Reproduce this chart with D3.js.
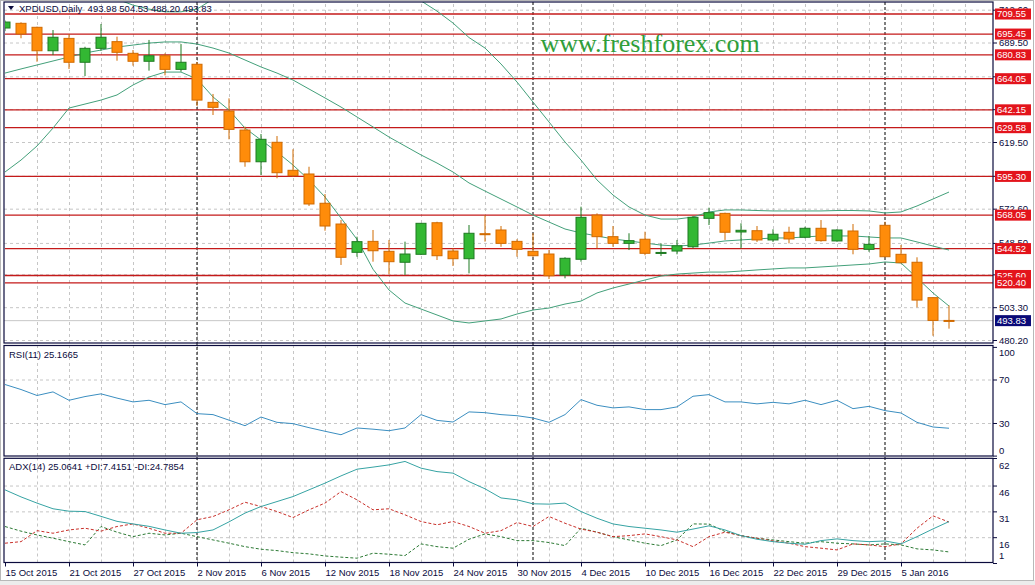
<!DOCTYPE html>
<html>
<head>
<meta charset="utf-8">
<script src="https://cdn.jsdelivr.net/npm/d3@7"></script>
<style>
  body { margin: 0; background: #fff; }
  svg { display: block; font-family: "Liberation Sans", Arial, sans-serif; }
</style>
</head>
<body>
<svg id="chart" width="1035" height="585"></svg>
<script>
// XPDUSD daily, 15 Oct 2015 - 8 Jan 2016 (60 bars)
var opens  = [699.7,703.0,700.2,683.7,692.4,675.6,685.4,690.1,681.9,676.3,680.2,670.6,674.2,647.4,641.3,627.9,605.6,619.3,599.6,597.0,
              576.4,561.8,541.9,549.6,542.6,534.9,540.5,562.7,542.8,537.4,555.0,557.6,549.6,542.6,540.7,525.9,537.0,568.1,552.9,548.2,
              551.1,541.2,542.8,545.8,565.8,569.3,556.2,557.1,550.6,556.0,552.5,558.8,549.9,556.9,544.0,560.9,540.5,534.9,510.0,493.98];
var highs  = [705.0,703.7,700.6,698.3,695.3,686.5,702.5,693.6,684.2,691.3,681.9,688.4,675.8,653.3,650.2,630.3,625.1,623.7,614.4,602.1,
              582.9,564.6,552.9,557.6,550.6,549.4,562.5,563.4,544.7,561.1,568.1,560.4,551.1,555.3,543.5,538.4,574.0,569.3,560.4,555.3,
              556.4,548.2,550.6,567.4,573.3,569.8,562.3,560.4,558.1,559.9,559.9,564.6,558.1,561.8,553.4,563.4,547.0,538.4,510.2,504.53];
var lows   = [697.5,692.5,676.0,680.7,670.9,665.9,683.7,676.7,673.2,669.7,666.4,669.0,644.8,638.5,621.4,602.1,596.3,594.0,595.1,574.5,
              557.1,533.0,538.8,535.3,526.6,525.9,540.0,536.5,532.3,527.1,549.4,545.8,538.8,538.8,523.1,523.6,535.3,544.7,545.8,543.5,
              539.8,539.3,540.5,544.7,561.1,550.6,544.7,549.2,549.2,548.2,551.8,549.4,549.4,540.5,542.3,538.5,534.2,503.2,483.2,488.20];
var closes = [703.9,695.5,683.7,693.2,675.6,685.4,693.2,682.6,676.3,680.2,670.6,675.6,649.0,643.9,628.4,605.6,621.4,597.9,595.8,575.9,
              560.4,538.4,549.4,543.0,535.3,540.7,562.3,539.5,537.4,555.3,554.6,548.2,544.0,539.5,525.4,537.7,566.5,552.9,548.2,550.1,
              541.2,541.8,546.5,566.5,569.8,556.0,557.4,550.6,554.6,551.3,558.8,550.1,557.6,544.0,547.5,538.8,534.6,508.3,493.98,493.83];

// Bollinger bands
var bbUpper  = [737.6,735.0,730.7,724.5,722.0,721.0,720.5,720.0,715.8,713.0,711.1,711.1,713.0,720.0,724.0,728.0,731.0,733.0,734.0,735.0,
                735.0,734.0,732.8,732.2,730.6,727.2,718.8,711.6,703.2,693.0,685.6,674.4,661.7,647.6,633.6,619.5,606.8,592.8,582.2,573.8,
                568.1,565.3,565.3,566.7,570.3,571.7,571.7,571.3,571.0,571.0,571.0,571.0,571.3,571.3,571.0,569.6,570.3,574.5,579.4,584.3];
var bbMiddle = [668.0,670.9,673.7,676.5,679.3,682.1,684.2,686.3,687.7,689.1,689.9,689.9,688.4,685.6,682.1,677.2,672.3,668.0,663.1,656.8,
                650.5,644.1,637.1,630.1,623.0,616.7,610.4,604.7,598.4,590.7,585.0,579.4,573.8,568.1,563.2,558.3,555.5,553.4,551.3,549.9,
                548.4,547.0,546.3,547.0,548.4,549.9,550.6,551.3,552.0,552.0,552.7,553.4,553.4,553.4,552.7,552.0,552.0,549.2,546.3,543.5];
var bbLower  = [598.4,606.8,616.7,629.3,643.4,646.2,649.0,652.6,659.6,665.2,668.7,668.7,663.8,651.2,642.0,629.3,620.9,612.5,603.3,592.8,
                580.8,566.0,551.0,530.0,515.4,506.2,502.0,497.8,493.6,492.2,493.6,495.0,498.5,501.3,502.7,505.5,507.6,513.3,516.8,519.6,
                522.4,525.2,526.6,527.3,528.0,528.0,528.7,529.5,530.2,530.9,530.9,531.6,532.3,533.0,533.7,535.1,534.4,523.9,513.3,504.1];

// RSI(11)
var rsi = [65.4,60.8,55.3,58.6,50.9,54.3,56.8,52.9,49.4,50.9,46.9,49.4,38.6,37.7,32.6,27.5,35.5,30.6,29.4,25.7,
           22.4,19.2,25.4,24.3,22.9,25.4,37.7,32.4,30.9,40.2,39.5,37.7,36.7,34.6,30.6,37.7,51.5,46.3,43.9,44.8,
           42.3,42.3,44.8,54.6,56.1,49.4,49.4,47.6,49.0,47.6,50.9,46.9,50.9,43.2,45.3,41.4,39.2,30.6,26.3,25.17];

// ADX(14)
var adx     = [43.5,39.4,35.8,32.5,31.1,30.9,28.1,25.2,23.7,22.3,20.2,18.3,18.7,20.2,24.9,30.0,33.8,36.7,39.6,43.5,
               47.4,51.6,55.5,56.7,58.0,60.0,56.1,54.1,53.2,48.3,44.1,38.8,37.7,35.4,35.2,35.8,30.9,27.0,23.7,22.2,
               21.2,20.2,18.9,20.7,22.6,20.2,16.9,14.8,13.4,12.5,11.9,14.0,15.0,14.0,13.4,13.8,12.1,16.3,20.8,25.06];
var plusDI  = [22.2,19.5,17.3,15.4,13.4,11.5,22.2,18.9,16.3,18.3,17.3,18.3,16.3,14.4,12.5,10.5,9.0,8.2,7.0,6.3,
               5.1,4.4,3.8,6.7,6.1,5.3,12.1,10.5,9.6,14.8,17.9,16.3,14.0,14.0,12.9,11.1,21.2,18.9,16.3,14.4,
               12.5,11.1,14.4,23.7,23.6,19.3,16.9,15.4,14.4,13.4,12.5,13.4,12.5,12.1,11.5,12.1,11.5,9.2,8.6,7.42];
var minusDI = [12.5,13.4,19.8,18.3,20.2,21.2,19.5,22.2,23.7,21.2,18.3,18.3,26.1,28.0,31.9,36.3,33.8,30.9,27.4,31.9,
               35.8,42.5,37.7,31.9,32.5,29.0,25.1,23.2,25.1,22.2,18.3,19.8,24.5,22.2,28.0,24.1,20.7,18.9,16.3,16.9,
               17.9,16.3,14.4,10.5,16.3,18.9,16.9,15.4,13.8,12.5,10.5,9.6,8.6,12.1,11.5,10.5,12.1,21.2,28.4,24.79];

// horizontal levels (red) and axis ticks
var levels = [709.55,695.45,680.83,664.05,642.15,629.58,595.30,568.05,544.52,525.60,520.40];
var lastPrice = 493.83;
var priceTicks = [480.20,503.30,526.40,548.50,572.60,595.70,619.50,642.60,665.70,689.50,712.60];
var priceLabels = [480.20,503.30,548.50,572.60,619.50,689.50,712.60];   // the rest sit under level boxes
var rsiTicks = [100,70,30,0];
var adxTicks = [62,46,31,16,1];
var dateTickIdx = [0,4,8,12,16,20,24,28,32,36,40,44,48,52,56];
var dateTickText = ["15 Oct 2015","21 Oct 2015","27 Oct 2015","2 Nov 2015","6 Nov 2015","12 Nov 2015","18 Nov 2015",
                    "24 Nov 2015","30 Nov 2015","4 Dec 2015","10 Dec 2015","16 Dec 2015","22 Dec 2015","29 Dec 2015","5 Jan 2016"];
var separators = [12,33,55];   // first bar of a month

var svg = d3.select("#chart");
var L = 4, R = 993;
var main = {top: 2, bottom: 343}, rsiP = {top: 345.5, bottom: 456}, adxP = {top: 458.3, bottom: 562.5};
var navy = "#0b0b3d", gridCol = "#c6c6c6";

// window edge
svg.append("rect").attr("x", 0).attr("y", 580).attr("width", 1035).attr("height", 5).attr("fill", "#ececec");
svg.append("rect").attr("x", 0.5).attr("y", 0.5).attr("width", 1033).attr("height", 580)
  .attr("fill", "none").attr("stroke", "#b8b8b8");

var x = d3.scaleLinear().domain([0, 61.75]).range([5, R]);
var y = d3.scaleLinear().domain([478.1, 718.0]).range([main.bottom, main.top]);
var yR = d3.scaleLinear().domain([0, 100]).range([455.6, 346.9]);
var yA = d3.scaleLinear().domain([1, 62]).range([563, 458]);

var defs = svg.append("defs");
function clip(id, p) {
  defs.append("clipPath").attr("id", id).append("rect")
    .attr("x", L + 1).attr("y", p.top).attr("width", R - L - 1).attr("height", p.bottom - p.top);
  return "url(#" + id + ")";
}
var cMain = clip("cm", main), cRsi = clip("cr", rsiP), cAdx = clip("ca", adxP);

// vertical grid (every second bar) through all panels
var evens = d3.range(2, 61, 2);
[main, rsiP, adxP].forEach(function (p) {
  svg.append("g").attr("transform", "translate(0," + p.bottom + ")")
    .call(d3.axisBottom(x).tickValues(evens).tickSize(-(p.bottom - p.top)).tickFormat(""))
    .call(function (g) { g.select(".domain").remove(); })
    .selectAll(".tick line").attr("stroke", gridCol).attr("stroke-dasharray", "3,3");
});

// horizontal grids
function hgrid(scale, vals) {
  svg.append("g").attr("transform", "translate(" + L + ",0)")
    .call(d3.axisLeft(scale).tickValues(vals).tickSize(-(R - L)).tickFormat(""))
    .call(function (g) { g.select(".domain").remove(); })
    .selectAll(".tick line").attr("stroke", gridCol).attr("stroke-dasharray", "3,3");
}
hgrid(y, priceTicks);
hgrid(yR, [70, 30]);
hgrid(yA, [46, 31, 16]);

// last price line
svg.append("line").attr("x1", L).attr("x2", R).attr("y1", y(lastPrice)).attr("y2", y(lastPrice))
  .attr("stroke", "#c8c8c8");

// month separators
separators.forEach(function (i) {
  svg.append("line").attr("x1", x(i)).attr("x2", x(i)).attr("y1", main.top).attr("y2", adxP.bottom)
    .attr("stroke", "#000").attr("stroke-dasharray", "3,2");
});

// watermark
svg.append("text").attr("x", 650).attr("y", 52).attr("text-anchor", "middle")
  .style("font-family", "'Liberation Serif', 'Times New Roman', serif").style("font-size", "26px")
  .attr("fill", "#2f9e3a").text("www.freshforex.com");

// red levels
var gm = svg.append("g").attr("clip-path", cMain);
gm.selectAll(".lvl").data(levels).enter().append("line")
  .attr("x1", L).attr("x2", R).attr("y1", function (d) { return y(d); }).attr("y2", function (d) { return y(d); })
  .attr("stroke", "#c41a1a").attr("stroke-width", 1.3);

// bollinger bands
var bbCol = "#43a07a";
[bbUpper, bbMiddle, bbLower].forEach(function (arr) {
  gm.append("path").datum(arr)
    .attr("d", d3.line().x(function (d, i) { return x(i); }).y(function (d) { return y(d); }))
    .attr("fill", "none").attr("stroke", bbCol).attr("stroke-width", 1);
});

// candles
var bars = d3.range(opens.length);
var cg = gm.selectAll(".c").data(bars).enter().append("g");
function up(i) { return closes[i] >= opens[i]; }
cg.append("line")
  .attr("x1", function (i) { return x(i); }).attr("x2", function (i) { return x(i); })
  .attr("y1", function (i) { return y(highs[i]); }).attr("y2", function (i) { return y(lows[i]); })
  .attr("stroke", function (i) { return up(i) ? "#1f7a22" : "#d06a00"; });
cg.append("rect")
  .attr("x", function (i) { return x(i) - 5; }).attr("width", 10)
  .attr("y", function (i) { return y(Math.max(opens[i], closes[i])); })
  .attr("height", function (i) { return Math.max(1, Math.abs(y(opens[i]) - y(closes[i]))); })
  .attr("fill", function (i) { return up(i) ? "#33b833" : "#ff8c0a"; })
  .attr("stroke", function (i) { return up(i) ? "#1f7a22" : "#d06a00"; });

// RSI
var gr = svg.append("g").attr("clip-path", cRsi);
gr.append("path").datum(rsi)
  .attr("d", d3.line().x(function (d, i) { return x(i); }).y(function (d) { return yR(d); }))
  .attr("fill", "none").attr("stroke", "#3b8ec0").attr("stroke-width", 1);

// ADX
var ga = svg.append("g").attr("clip-path", cAdx);
var lineA = d3.line().x(function (d, i) { return x(i); }).y(function (d) { return yA(d); });
ga.append("path").datum(plusDI).attr("d", lineA).attr("fill", "none")
  .attr("stroke", "#2d7a35").attr("stroke-dasharray", "3,2");
ga.append("path").datum(minusDI).attr("d", lineA).attr("fill", "none")
  .attr("stroke", "#c8302a").attr("stroke-dasharray", "3,2");
ga.append("path").datum(adx).attr("d", lineA).attr("fill", "none")
  .attr("stroke", "#36a3a3").attr("stroke-width", 1);

// panel frames
[main, rsiP, adxP].forEach(function (p) {
  svg.append("rect").attr("x", L).attr("y", p.top).attr("width", R - L).attr("height", p.bottom - p.top)
    .attr("fill", "none").attr("stroke", navy).attr("stroke-width", 1.2);
});

// right axes
var fs = "9.5px";
var ax = svg.append("g").attr("transform", "translate(" + R + ",0)")
  .call(d3.axisRight(y).tickValues(priceTicks).tickSize(4).tickFormat(d3.format(".2f")));
ax.select(".domain").remove();
ax.selectAll("line").attr("stroke", navy);
ax.selectAll("text").attr("fill", navy).style("font-size", fs).attr("x", 6)
  .filter(function (d) { return priceLabels.indexOf(d) < 0; }).remove();

var axR = svg.append("g").attr("transform", "translate(" + R + ",0)")
  .call(d3.axisRight(yR).tickValues(rsiTicks).tickSize(4));
axR.select(".domain").remove();
axR.selectAll("line").attr("stroke", navy);
axR.selectAll("text").attr("fill", navy).style("font-size", fs).attr("x", 6)
  .attr("dy", function (d) { return d === 100 ? "0.95em" : d === 0 ? "-0.25em" : "0.32em"; });

var axA = svg.append("g").attr("transform", "translate(" + R + ",0)")
  .call(d3.axisRight(yA).tickValues(adxTicks).tickSize(4));
axA.select(".domain").remove();
axA.selectAll("line").attr("stroke", navy);
axA.selectAll("text").attr("fill", navy).style("font-size", fs).attr("x", 6)
  .attr("dy", function (d) { return d === 1 ? "-0.45em" : "1.1em"; });

// level price boxes
levels.concat([lastPrice]).forEach(function (v) {
  var last = v === lastPrice;
  svg.append("rect").attr("x", R + 2).attr("y", y(v) - 5.5).attr("width", 36).attr("height", 11)
    .attr("fill", last ? "#0a0a78" : "#e3141c");
  svg.append("text").attr("x", R + 4).attr("y", y(v)).attr("dy", "0.35em")
    .attr("fill", "#fff").style("font-size", fs).text(v.toFixed(2));
});

// bottom axis
var bx = svg.append("g").attr("transform", "translate(0," + adxP.bottom + ")")
  .call(d3.axisBottom(x).tickValues(dateTickIdx).tickSize(4)
    .tickFormat(function (d, k) { return dateTickText[k]; }));
bx.select(".domain").remove();
bx.selectAll("line").attr("stroke", navy);
bx.selectAll("text").attr("fill", navy).style("font-size", fs).attr("text-anchor", "start")
  .attr("x", 0).attr("y", 7);

// panel titles
svg.append("path").attr("d", "M8,6 L14,6 L11,10 Z").attr("fill", navy);
svg.append("text").attr("x", 19).attr("y", 9).attr("dy", "0.35em").attr("fill", navy).style("font-size", fs)
  .attr("xml:space", "preserve").text("XPDUSD,Daily  493.98 504.53 488.20 493.83");
svg.append("text").attr("x", 9).attr("y", 355).attr("dy", "0.35em").attr("fill", navy).style("font-size", fs)
  .text("RSI(11) 25.1665");
svg.append("text").attr("x", 9).attr("y", 467).attr("dy", "0.35em").attr("fill", navy).style("font-size", fs)
  .text("ADX(14) 25.0641 +DI:7.4151 -DI:24.7854");
</script>
</body>
</html>
